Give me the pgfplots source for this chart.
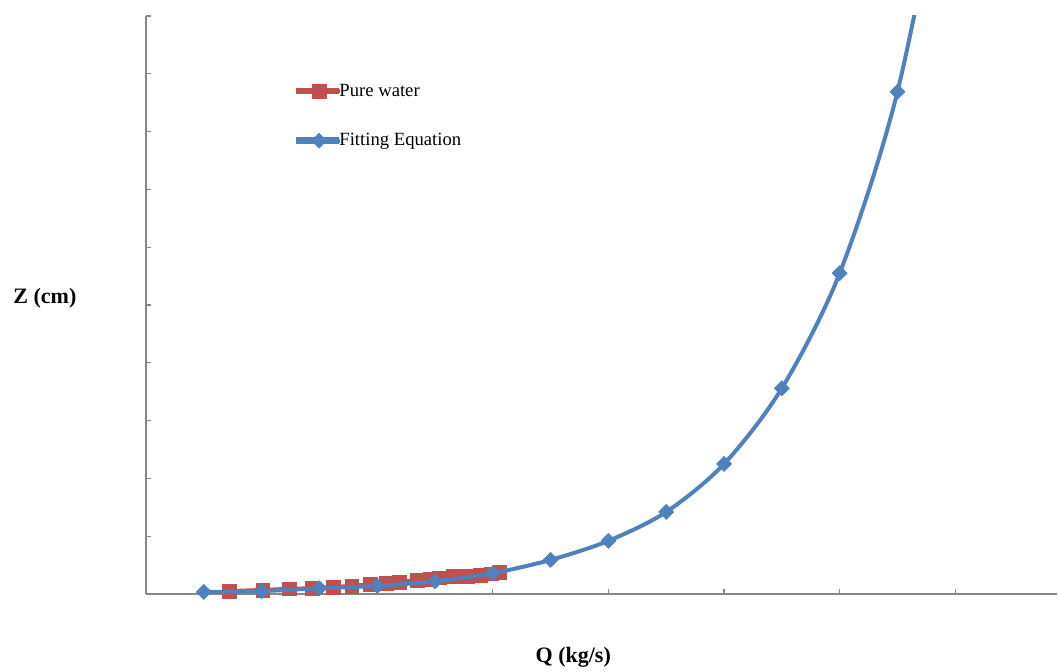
\documentclass[border=0pt]{standalone}
\usepackage{fontspec}
\setmainfont{Liberation Serif}
\usepackage{pgfplots}
\pgfplotsset{compat=1.18}
\definecolor{xred}{HTML}{C0504D}
\definecolor{xblue}{HTML}{4F81BD}
\definecolor{axgray}{HTML}{868686}
\begin{document}
\begin{tikzpicture}
\begin{axis}[
  scale only axis,
  width=683.25pt, height=433.5pt,
  xmin=0, xmax=7.88, ymin=0, ymax=10,
  axis lines=left,
  axis line style={-, axgray, line width=0.9pt},
  xtick={0,1,...,7}, ytick={0,1,...,10},
  xticklabels={}, yticklabels={},
  tick align=inside,
  major tick length=3.75pt,
  tick style={axgray, line width=0.9pt},
  clip mode=individual,
  xlabel={\fontsize{16.5}{18}\selectfont\bfseries Q (kg/s)},
  ylabel={\fontsize{16.5}{18}\selectfont\bfseries Z (cm)},
  xlabel style={at={(axis description cs:0.469,-0.109)}, anchor=center},
  ylabel style={at={(axis description cs:-0.111,0.512)}, anchor=center, rotate=-90},
  legend style={at={(axis description cs:0.1648,0.827)}, anchor=west,
    draw=none, fill=none, inner sep=0pt, row sep=25.5pt,
    font=\fontsize{14}{16}\selectfont,
    nodes={inner sep=0.5pt}},
  legend cell align=left,
  legend image code/.code={%
    \draw[#1, mark=none, overlay] (0pt,0pt) -- (31pt,0pt);
    \path[#1] plot coordinates {(15.5pt,0pt)};
    \path (0pt,-1pt) rectangle (28.75pt,1pt);},
]
\addplot[color=xred, line width=3pt, mark=square*, mark size=5.2pt, mark options={solid, line width=0.4pt, fill=xred, draw=xred}]
coordinates {
(0.72,0.05) (1.01,0.07) (1.24,0.09) (1.44,0.10) (1.62,0.12) (1.78,0.14)
(1.94,0.17) (2.08,0.19) (2.19,0.21) (2.35,0.24) (2.46,0.26) (2.54,0.28)
(2.66,0.30) (2.78,0.31) (2.89,0.33) (2.99,0.35) (3.06,0.38)
};
\addlegendentry{Pure water}
\addplot[color=xblue, line width=3pt, smooth, mark=square*, mark indices={1,...,13}, mark size=4pt, mark options={solid, rotate=45, line width=0.4pt, fill=xblue, draw=xblue}]
coordinates {
(0.5,0.035) (1.0,0.05) (1.5,0.10) (2.0,0.14) (2.5,0.22) (3.0,0.36)
(3.5,0.59) (4.0,0.92) (4.5,1.42) (5.0,2.25) (5.5,3.56) (6.0,5.55) (6.5,8.69) (7.0,13.6)
};
\addlegendentry{Fitting Equation}
\end{axis}
\path (current axis.south west) ++(-109.5pt,-56.25pt) coordinate (bbA);
\path (current axis.north east) ++(1.5pt,12pt) coordinate (bbB);
\path (bbA) rectangle (bbB);
\end{tikzpicture}
\end{document}
